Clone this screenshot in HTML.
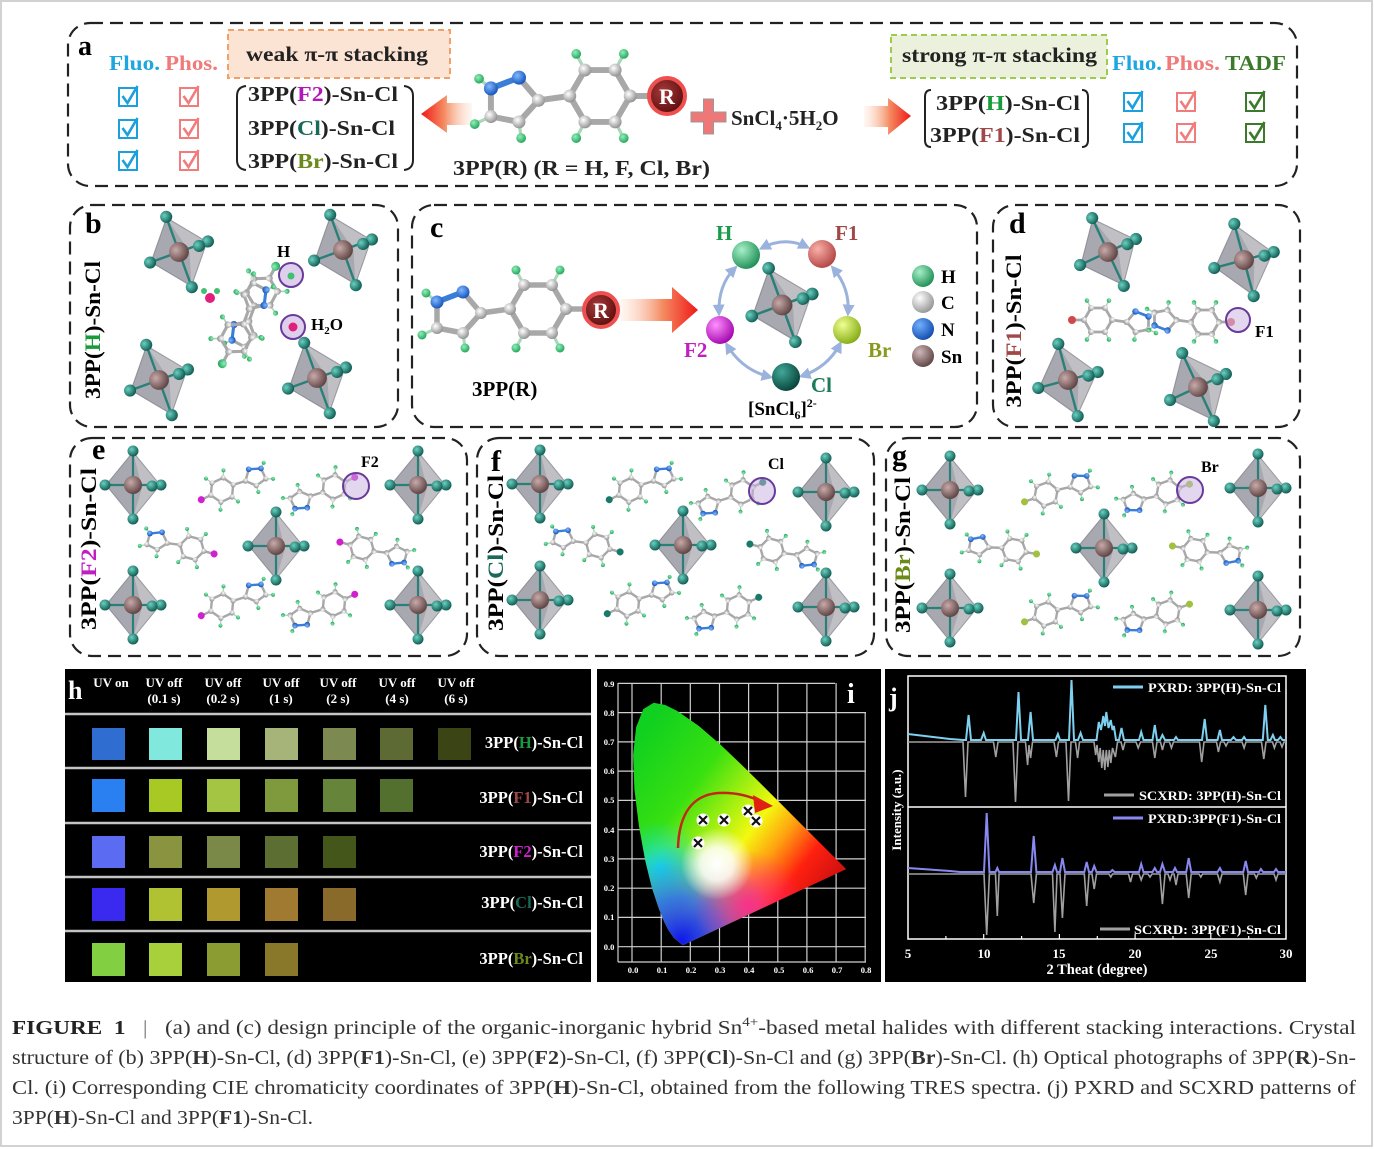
<!DOCTYPE html>
<html><head><meta charset="utf-8"><style>
html,body{margin:0;padding:0;background:#fff;}
body{width:1374px;height:1149px;overflow:hidden;}
svg{display:block;}
</style></head><body>
<svg width="1374" height="1149" viewBox="0 0 1374 1149" xmlns="http://www.w3.org/2000/svg" font-family="'Liberation Serif', serif" font-weight="bold">
<defs>
<radialGradient id="gSn" cx=".38" cy=".35" r=".7"><stop offset="0" stop-color="#c8aaaa"/><stop offset="1" stop-color="#5a3e3e"/></radialGradient>
<radialGradient id="gCl" cx=".38" cy=".35" r=".7"><stop offset="0" stop-color="#6ad0c0"/><stop offset="1" stop-color="#0a554c"/></radialGradient>
<radialGradient id="gC" cx=".38" cy=".35" r=".7"><stop offset="0" stop-color="#ffffff"/><stop offset="1" stop-color="#8c8c8c"/></radialGradient>
<radialGradient id="gN" cx=".38" cy=".35" r=".7"><stop offset="0" stop-color="#80b8ff"/><stop offset="1" stop-color="#1050b8"/></radialGradient>
<radialGradient id="gH" cx=".38" cy=".35" r=".7"><stop offset="0" stop-color="#90f0b8"/><stop offset="1" stop-color="#20a058"/></radialGradient>
<radialGradient id="gHb" cx=".35" cy=".32" r=".75"><stop offset="0" stop-color="#a8f0c8"/><stop offset="1" stop-color="#188a50"/></radialGradient>
<radialGradient id="gF1" cx=".35" cy=".32" r=".75"><stop offset="0" stop-color="#f8b0a8"/><stop offset="1" stop-color="#b04040"/></radialGradient>
<radialGradient id="gF2" cx=".35" cy=".32" r=".75"><stop offset="0" stop-color="#ff90ff"/><stop offset="1" stop-color="#a000a8"/></radialGradient>
<radialGradient id="gBr" cx=".35" cy=".32" r=".75"><stop offset="0" stop-color="#f0ff90"/><stop offset="1" stop-color="#80a810"/></radialGradient>
<radialGradient id="gClb" cx=".35" cy=".32" r=".75"><stop offset="0" stop-color="#40a898"/><stop offset="1" stop-color="#063e36"/></radialGradient>
<radialGradient id="gCw" cx=".35" cy=".32" r=".75"><stop offset="0" stop-color="#ffffff"/><stop offset="1" stop-color="#909090"/></radialGradient>
<radialGradient id="gNb" cx=".35" cy=".32" r=".75"><stop offset="0" stop-color="#70b0ff"/><stop offset="1" stop-color="#1048a8"/></radialGradient>
<radialGradient id="gSnb" cx=".35" cy=".32" r=".75"><stop offset="0" stop-color="#d0b8b8"/><stop offset="1" stop-color="#5a4040"/></radialGradient>
<radialGradient id="gR" cx=".4" cy=".38" r=".65"><stop offset="0" stop-color="#a83a3a"/><stop offset="1" stop-color="#5a0c0c"/></radialGradient>
<linearGradient id="arL" x1="1" y1="0" x2="0" y2="0"><stop offset="0" stop-color="#fde6d6" stop-opacity=".3"/><stop offset=".55" stop-color="#f48a60"/><stop offset="1" stop-color="#f01818"/></linearGradient>
<linearGradient id="arR" x1="0" y1="0" x2="1" y2="0"><stop offset="0" stop-color="#fde6d6" stop-opacity=".3"/><stop offset=".55" stop-color="#f48a60"/><stop offset="1" stop-color="#f01818"/></linearGradient>
<linearGradient id="cieBase" gradientUnits="userSpaceOnUse" x1="650" y1="720" x2="846" y2="869"><stop offset="0" stop-color="#10d020"/><stop offset=".3" stop-color="#38e010"/><stop offset=".48" stop-color="#a8f010"/><stop offset=".6" stop-color="#f4f810"/><stop offset=".72" stop-color="#ffa010"/><stop offset=".85" stop-color="#ff2010"/><stop offset="1" stop-color="#cc1010"/></linearGradient>
<radialGradient id="cieB" gradientUnits="userSpaceOnUse" cx="682" cy="940" r="95"><stop offset="0" stop-color="#1018e8"/><stop offset=".45" stop-color="#2060ff" stop-opacity=".8"/><stop offset="1" stop-color="#20a0ff" stop-opacity="0"/></radialGradient>
<radialGradient id="cieC" gradientUnits="userSpaceOnUse" cx="660" cy="868" r="48"><stop offset="0" stop-color="#10e0f0" stop-opacity=".95"/><stop offset="1" stop-color="#10e0e0" stop-opacity="0"/></radialGradient>
<radialGradient id="cieM" gradientUnits="userSpaceOnUse" cx="748" cy="905" r="55"><stop offset="0" stop-color="#ff2a90" stop-opacity=".9"/><stop offset="1" stop-color="#ff2a90" stop-opacity="0"/></radialGradient>
<radialGradient id="cieW" gradientUnits="userSpaceOnUse" cx="717" cy="864" r="36"><stop offset="0" stop-color="#ffffff"/><stop offset=".45" stop-color="#ffffff" stop-opacity=".85"/><stop offset="1" stop-color="#ffffff" stop-opacity="0"/></radialGradient>
<clipPath id="cieClip"><path d="M682.8,945.2 L674.0,938.0 L668.2,929.8 L663.9,921.3 L658.6,907.9 L652.0,888.0 L645.2,860.4 L638.9,825.9 L634.4,789.2 L633.1,755.1 L636.1,727.2 L643.3,709.1 L653.7,702.7 L665.3,705.0 L677.1,710.9 L698.9,726.0 L719.9,744.1 L740.8,764.0 L761.5,784.4 L781.4,804.3 L799.7,822.6 L814.8,837.7 L833.6,856.5 L846.2,869.1 Z"/></clipPath>
<marker id="ah" viewBox="0 0 10 10" refX="7" refY="5" markerWidth="4" markerHeight="4" orient="auto-start-reverse"><path d="M0,0 L10,5 L0,10 z" fill="#9ab2dc"/></marker>
<g id="oct">
<polygon points="0,-33 27,0 0,33 -27,0" fill="#8a8a94" fill-opacity=".55" stroke="#9a9aa2" stroke-width="1"/>
<polygon points="0,-33 9,3 0,33 -27,0" fill="#55556a" fill-opacity=".22"/>
<g stroke="#2a8078" stroke-width="2.2"><line x1="0" y1="0" x2="0" y2="-33"/><line x1="0" y1="0" x2="0" y2="33"/><line x1="0" y1="0" x2="-28" y2="0"/><line x1="0" y1="0" x2="28" y2="0"/></g>
<circle r="9" fill="url(#gSn)"/>
<g fill="url(#gCl)"><circle cx="0" cy="-34" r="5.5"/><circle cx="0" cy="34" r="5.5"/><circle cx="-28" cy="0" r="5.5"/><circle cx="28" cy="0" r="5.5"/><circle cx="19" cy="1" r="5.5"/></g>
</g>
<g id="mol">
<g fill="none" stroke="#a8a8a8" stroke-width="5.5" stroke-linejoin="round" stroke-linecap="round">
<polygon points="28,0 14,-24 -14,-24 -28,0 -14,24 14,24"/>
<polyline points="-75,-17 -57,4 -75,24 -101,19 -101,-7"/>
<line x1="-28" y1="0" x2="-57" y2="4"/><line x1="28" y1="0" x2="50" y2="0"/>
</g>
<line x1="-75" y1="-17" x2="-101" y2="-7" stroke="#3a7ed8" stroke-width="5.5" stroke-linecap="round"/>
<g stroke="#a8d8b8" stroke-width="3"><line x1="14" y1="-24" x2="22" y2="-39"/><line x1="-14" y1="-24" x2="-22" y2="-39"/><line x1="-14" y1="24" x2="-22" y2="39"/><line x1="14" y1="24" x2="22" y2="39"/><line x1="-101" y1="-7" x2="-112" y2="-16"/><line x1="-101" y1="19" x2="-116" y2="26"/><line x1="-75" y1="24" x2="-73" y2="39"/></g>
<g fill="url(#gC)"><circle cx="28" cy="0" r="6"/><circle cx="14" cy="-24" r="6"/><circle cx="-14" cy="-24" r="6"/><circle cx="-28" cy="0" r="6"/><circle cx="-14" cy="24" r="6"/><circle cx="14" cy="24" r="6"/><circle cx="-57" cy="4" r="6"/><circle cx="-101" cy="19" r="6"/><circle cx="-75" cy="24" r="6"/></g>
<g fill="url(#gN)"><circle cx="-75" cy="-17" r="6.5"/><circle cx="-101" cy="-7" r="6.5"/></g>
<g fill="url(#gH)"><circle cx="22" cy="-39" r="4.5"/><circle cx="-22" cy="-39" r="4.5"/><circle cx="-22" cy="39" r="4.5"/><circle cx="22" cy="39" r="4.5"/><circle cx="-112" cy="-16" r="4.5"/><circle cx="-116" cy="26" r="4.5"/><circle cx="-73" cy="39" r="4.5"/></g>
<circle cx="52" cy="0" r="8"/>
</g>
<g id="cb" fill="none"><rect x="0" y="0" width="18" height="18" stroke-width="2"/><path d="M3.5,8 L8.5,15 L18.5,-2" stroke-width="2.6"/></g>
</defs>

<!-- page border -->
<rect x="1" y="1" width="1371" height="1145" fill="#fff" stroke="#d2d2d2" stroke-width="2"/>

<!-- dashed boxes -->
<g fill="none" stroke="#222" stroke-width="2.2" stroke-dasharray="13 7">
<rect x="68" y="23" width="1229" height="163" rx="22"/>
<rect x="70" y="205" width="328" height="222" rx="22"/>
<rect x="412" y="205" width="565" height="222" rx="22"/>
<rect x="993" y="205" width="307" height="222" rx="22"/>
<rect x="70" y="438" width="397" height="218" rx="22"/>
<rect x="477" y="438" width="397" height="218" rx="22"/>
<rect x="886" y="438" width="414" height="218" rx="22"/>
</g>

<!-- ===== Panel a ===== -->
<text x="78" y="55" font-size="28">a</text>
<text x="109" y="70" font-size="21" fill="#1da6e0" textLength="51" lengthAdjust="spacingAndGlyphs">Fluo.</text>
<text x="165" y="70" font-size="21" fill="#f07a7a" textLength="53" lengthAdjust="spacingAndGlyphs">Phos.</text>
<rect x="228" y="30" width="222" height="48" fill="#fbe4d4" stroke="#f0a068" stroke-width="2" stroke-dasharray="6 4"/>
<text x="246" y="61" font-size="21" fill="#222" textLength="182" lengthAdjust="spacingAndGlyphs">weak π-π stacking</text>
<use href="#cb" x="119" y="88" stroke="#1aa0dc"/>
<use href="#cb" x="119" y="120" stroke="#1aa0dc"/>
<use href="#cb" x="119" y="152" stroke="#1aa0dc"/>
<use href="#cb" x="180" y="88" stroke="#f07c7c"/>
<use href="#cb" x="180" y="120" stroke="#f07c7c"/>
<use href="#cb" x="180" y="152" stroke="#f07c7c"/>
<path d="M246,86 Q237,87 237,96 L237,160 Q237,169 246,170" fill="none" stroke="#222" stroke-width="2"/>
<path d="M404,86 Q413,87 413,96 L413,160 Q413,169 404,170" fill="none" stroke="#222" stroke-width="2"/>
<text x="248" y="101" font-size="21" fill="#222" textLength="150" lengthAdjust="spacingAndGlyphs">3PP(<tspan fill="#b018b8">F2</tspan>)-Sn-Cl</text>
<text x="248" y="135" font-size="21" fill="#222" textLength="147" lengthAdjust="spacingAndGlyphs">3PP(<tspan fill="#1a6a5a">Cl</tspan>)-Sn-Cl</text>
<text x="248" y="168" font-size="21" fill="#222" textLength="150" lengthAdjust="spacingAndGlyphs">3PP(<tspan fill="#6a8a1a">Br</tspan>)-Sn-Cl</text>
<polygon points="472,103 447,103 447,95 421,114 447,133 447,125 472,125" fill="url(#arL)"/>
<use href="#mol" transform="translate(600,96) scale(1.08)" fill="none"/>
<circle cx="667" cy="96" r="18" fill="url(#gR)" stroke="#ee5050" stroke-width="4"/>
<text x="667" y="104" font-size="22" fill="#fff" text-anchor="middle">R</text>
<text x="453" y="175" font-size="21" fill="#222" textLength="257" lengthAdjust="spacingAndGlyphs">3PP(R) (R = H, F, Cl, Br)</text>
<g fill="#ee7878" stroke="#999" stroke-width="1"><rect x="691" y="112" width="35" height="10"/><rect x="703.5" y="99" width="10" height="35"/></g>
<rect x="692" y="113" width="33" height="8" fill="#ee7878"/>
<text x="731" y="125" font-size="21" fill="#222">SnCl<tspan dy="5" font-size="13">4</tspan><tspan dy="-5">·5H</tspan><tspan dy="5" font-size="13">2</tspan><tspan dy="-5">O</tspan></text>
<polygon points="864,106 888,106 888,98 911,116 888,135 888,127 864,127" fill="url(#arR)"/>
<rect x="891" y="35" width="216" height="43" fill="#ebf1dd" stroke="#9ccc4a" stroke-width="2" stroke-dasharray="6 4"/>
<text x="902" y="62" font-size="21" fill="#222" textLength="195" lengthAdjust="spacingAndGlyphs">strong π-π stacking</text>
<path d="M931,90 Q925,90 925,97 L925,140 Q925,147 931,147" fill="none" stroke="#222" stroke-width="2"/>
<path d="M1082,90 Q1088,90 1088,97 L1088,140 Q1088,147 1082,147" fill="none" stroke="#222" stroke-width="2"/>
<text x="936" y="110" font-size="21" fill="#222" textLength="144" lengthAdjust="spacingAndGlyphs">3PP(<tspan fill="#1a9a3a">H</tspan>)-Sn-Cl</text>
<text x="930" y="142" font-size="21" fill="#222" textLength="150" lengthAdjust="spacingAndGlyphs">3PP(<tspan fill="#a04848">F1</tspan>)-Sn-Cl</text>
<text x="1112" y="70" font-size="21" fill="#1da6e0" textLength="50" lengthAdjust="spacingAndGlyphs">Fluo.</text>
<text x="1165" y="70" font-size="21" fill="#f07a7a" textLength="55" lengthAdjust="spacingAndGlyphs">Phos.</text>
<text x="1225" y="70" font-size="21" fill="#3a7a2a" textLength="61" lengthAdjust="spacingAndGlyphs">TADF</text>
<use href="#cb" x="1124" y="93" stroke="#1aa0dc"/>
<use href="#cb" x="1124" y="124" stroke="#1aa0dc"/>
<use href="#cb" x="1177" y="93" stroke="#f07c7c"/>
<use href="#cb" x="1177" y="124" stroke="#f07c7c"/>
<use href="#cb" x="1246" y="93" stroke="#3a7a2a"/>
<use href="#cb" x="1246" y="124" stroke="#3a7a2a"/>

<!-- ===== Panel b ===== -->
<text x="85" y="233" font-size="30">b</text>
<text transform="translate(100,330) rotate(-90)" font-size="22" text-anchor="middle" textLength="138" lengthAdjust="spacingAndGlyphs">3PP(<tspan fill="#1a9a3a">H</tspan>)-Sn-Cl</text>
<use href="#oct" transform="translate(179,252) rotate(-20) scale(1.1)"/>
<use href="#oct" transform="translate(343,250) rotate(-20) scale(1.1)"/>
<use href="#oct" transform="translate(159,380) rotate(-20) scale(1.1)"/>
<use href="#oct" transform="translate(317,378) rotate(-20) scale(1.1)"/>
<use href="#mol" transform="translate(262,292) rotate(-62) scale(0.56)" fill="url(#gH)"/>
<use href="#mol" transform="translate(236,338) rotate(118) scale(0.56)" fill="url(#gH)"/>
<circle cx="210" cy="298" r="5" fill="#e0207a"/><circle cx="204" cy="291" r="3" fill="#40c070"/><circle cx="217" cy="291" r="3" fill="#40c070"/>
<circle cx="291" cy="275" r="12" fill="#c8b0e0" fill-opacity=".6" stroke="#6a3a9a" stroke-width="2"/>
<circle cx="291" cy="276" r="3.5" fill="#40c070"/>
<circle cx="293" cy="327" r="12" fill="#c8b0e0" fill-opacity=".6" stroke="#6a3a9a" stroke-width="2"/>
<circle cx="293" cy="327" r="4.5" fill="#e0207a"/>
<text x="277" y="257" font-size="17">H</text>
<text x="311" y="330" font-size="17">H<tspan dy="4" font-size="11">2</tspan><tspan dy="-4">O</tspan></text>

<!-- ===== Panel c ===== -->
<text x="430" y="237" font-size="30">c</text>
<use href="#mol" transform="translate(538,309)" fill="none"/>
<circle cx="601" cy="310" r="17" fill="url(#gR)" stroke="#ee5050" stroke-width="4"/>
<text x="601" y="318" font-size="22" fill="#fff" text-anchor="middle">R</text>
<polygon points="620,299 672,299 672,287 698,310 672,333 672,321 620,321" fill="url(#arR)"/>
<text x="472" y="396" font-size="21">3PP(R)</text>
<g fill="none" stroke="#9ab2dc" stroke-width="3" marker-start="url(#ah)" marker-end="url(#ah)">
<path d="M762,248 Q785,236 807,247"/>
<path d="M833,268 Q850,288 848,313"/>
<path d="M840,344 Q828,367 802,376"/>
<path d="M770,377 Q742,370 727,345"/>
<path d="M719,313 Q718,285 735,268"/>
</g>
<use href="#oct" transform="translate(782,305) rotate(-20) scale(1.15)"/>
<circle cx="746" cy="255" r="14" fill="url(#gHb)"/>
<circle cx="822" cy="254" r="14" fill="url(#gF1)"/>
<circle cx="720" cy="330" r="14" fill="url(#gF2)"/>
<circle cx="847" cy="330" r="14" fill="url(#gBr)"/>
<circle cx="786" cy="377" r="14" fill="url(#gClb)"/>
<text x="716" y="240" font-size="21" fill="#1a9a4a">H</text>
<text x="835" y="240" font-size="21" fill="#a04848">F1</text>
<text x="684" y="357" font-size="21" fill="#c020c0">F2</text>
<text x="868" y="357" font-size="21" fill="#8a9a20">Br</text>
<text x="811" y="392" font-size="21" fill="#1a7a5a">Cl</text>
<text x="748" y="415" font-size="19">[SnCl<tspan dy="4" font-size="12">6</tspan><tspan dy="-4">]</tspan><tspan dy="-8" font-size="12">2-</tspan></text>
<circle cx="923" cy="276" r="11" fill="url(#gHb)"/>
<circle cx="923" cy="302" r="11" fill="url(#gCw)"/>
<circle cx="923" cy="329" r="11" fill="url(#gNb)"/>
<circle cx="923" cy="356" r="11" fill="url(#gSnb)"/>
<text x="941" y="283" font-size="19">H</text>
<text x="941" y="309" font-size="19">C</text>
<text x="941" y="336" font-size="19">N</text>
<text x="941" y="363" font-size="19">Sn</text>

<!-- ===== Panel d ===== -->
<text x="1009" y="233" font-size="30">d</text>
<text transform="translate(1021,331) rotate(-90)" font-size="22" text-anchor="middle" textLength="153" lengthAdjust="spacingAndGlyphs">3PP(<tspan fill="#a04848">F1</tspan>)-Sn-Cl</text>
<use href="#oct" transform="translate(1108,252) rotate(-25) scale(1.1)"/>
<use href="#oct" transform="translate(1244,260) rotate(-15) scale(1.1)"/>
<use href="#oct" transform="translate(1068,380) rotate(-15) scale(1.1)"/>
<use href="#oct" transform="translate(1198,387) rotate(-25) scale(1.1)"/>
<use href="#mol" transform="translate(1098,320) scale(-0.5,0.5)" fill="#d04848"/>
<use href="#mol" transform="translate(1205,322) scale(0.5,-0.5)" fill="#d86a6a"/>
<circle cx="1238" cy="320" r="12" fill="#c8b0e0" fill-opacity=".5" stroke="#6a3a9a" stroke-width="2"/>
<text x="1255" y="337" font-size="17">F1</text>

<!-- ===== Panel e ===== -->
<text x="92" y="459" font-size="30">e</text>
<text transform="translate(96,549) rotate(-90)" font-size="22" text-anchor="middle" textLength="162" lengthAdjust="spacingAndGlyphs">3PP(<tspan fill="#c020c0">F2</tspan>)-Sn-Cl</text>
<use href="#oct" transform="translate(133,485)"/>
<use href="#oct" transform="translate(418,485)"/>
<use href="#oct" transform="translate(276,546)"/>
<use href="#oct" transform="translate(133,605)"/>
<use href="#oct" transform="translate(418,605)"/>
<use href="#mol" transform="translate(222,490) rotate(-25) scale(-0.44,0.44)" fill="#d020d0"/>
<use href="#mol" transform="translate(334,487) rotate(-25) scale(0.44,-0.44)" fill="#d020d0"/>
<use href="#mol" transform="translate(192,548) rotate(15) scale(0.44,0.44)" fill="#d020d0"/>
<use href="#mol" transform="translate(362,548) rotate(195) scale(0.44)" fill="#d020d0"/>
<use href="#mol" transform="translate(222,606) rotate(-25) scale(-0.44,0.44)" fill="#d020d0"/>
<use href="#mol" transform="translate(334,604) rotate(-25) scale(0.44,-0.44)" fill="#d020d0"/>
<circle cx="356" cy="486" r="13" fill="#c8b0e0" fill-opacity=".5" stroke="#6a3a9a" stroke-width="2"/>
<text x="361" y="467" font-size="16">F2</text>

<!-- ===== Panel f ===== -->
<text x="491" y="471" font-size="30">f</text>
<text transform="translate(503,553) rotate(-90)" font-size="22" text-anchor="middle" textLength="156" lengthAdjust="spacingAndGlyphs">3PP(<tspan fill="#1a6a5a">Cl</tspan>)-Sn-Cl</text>
<use href="#oct" transform="translate(540,484)"/>
<use href="#oct" transform="translate(826,492)"/>
<use href="#oct" transform="translate(683,545)"/>
<use href="#oct" transform="translate(540,600)"/>
<use href="#oct" transform="translate(826,607)"/>
<use href="#mol" transform="translate(630,490) rotate(-25) scale(-0.44,0.44)" fill="#1a7a6a"/>
<use href="#mol" transform="translate(742,492) rotate(-25) scale(0.44,-0.44)" fill="#1a7a6a"/>
<use href="#mol" transform="translate(598,546) rotate(15) scale(0.44,0.44)" fill="#1a7a6a"/>
<use href="#mol" transform="translate(772,550) rotate(195) scale(0.44)" fill="#1a7a6a"/>
<use href="#mol" transform="translate(628,604) rotate(-25) scale(-0.44,0.44)" fill="#1a7a6a"/>
<use href="#mol" transform="translate(738,607) rotate(-25) scale(0.44,-0.44)" fill="#1a7a6a"/>
<circle cx="762" cy="491" r="13" fill="#c8b0e0" fill-opacity=".5" stroke="#6a3a9a" stroke-width="2"/>
<text x="768" y="469" font-size="16">Cl</text>

<!-- ===== Panel g ===== -->
<text x="892" y="465" font-size="30">g</text>
<text transform="translate(910,555) rotate(-90)" font-size="22" text-anchor="middle" textLength="156" lengthAdjust="spacingAndGlyphs">3PP(<tspan fill="#6a8a1a">Br</tspan>)-Sn-Cl</text>
<use href="#oct" transform="translate(950,490)"/>
<use href="#oct" transform="translate(1258,488)"/>
<use href="#oct" transform="translate(1104,548)"/>
<use href="#oct" transform="translate(950,608)"/>
<use href="#oct" transform="translate(1258,610)"/>
<use href="#mol" transform="translate(1046,494) rotate(-20) scale(-0.44,0.44)" fill="#a0c040"/>
<use href="#mol" transform="translate(1168,492) rotate(-20) scale(0.44,-0.44)" fill="#a0c040"/>
<use href="#mol" transform="translate(1014,550) rotate(10) scale(0.44,0.44)" fill="#a0c040"/>
<use href="#mol" transform="translate(1195,550) rotate(190) scale(0.44)" fill="#a0c040"/>
<use href="#mol" transform="translate(1046,614) rotate(-20) scale(-0.44,0.44)" fill="#a0c040"/>
<use href="#mol" transform="translate(1168,612) rotate(-20) scale(0.44,-0.44)" fill="#a0c040"/>
<circle cx="1190" cy="490" r="13" fill="#c8b0e0" fill-opacity=".5" stroke="#6a3a9a" stroke-width="2"/>
<text x="1201" y="472" font-size="16">Br</text>

<!-- ===== Panel h ===== -->
<rect x="65" y="669" width="526" height="313" fill="#000"/>
<g stroke="#c4c4c4" stroke-width="2.5"><line x1="65" y1="714" x2="591" y2="714"/><line x1="65" y1="768" x2="591" y2="768"/><line x1="65" y1="823" x2="591" y2="823"/><line x1="65" y1="877" x2="591" y2="877"/><line x1="65" y1="931" x2="591" y2="931"/></g>
<text x="68" y="699" font-size="26" fill="#fff">h</text>
<g fill="#fff" font-size="13" text-anchor="middle">
<text x="111" y="687">UV on</text>
<text x="164" y="687">UV off</text><text x="164" y="703">(0.1 s)</text>
<text x="223" y="687">UV off</text><text x="223" y="703">(0.2 s)</text>
<text x="281" y="687">UV off</text><text x="281" y="703">(1 s)</text>
<text x="338" y="687">UV off</text><text x="338" y="703">(2 s)</text>
<text x="397" y="687">UV off</text><text x="397" y="703">(4 s)</text>
<text x="456" y="687">UV off</text><text x="456" y="703">(6 s)</text>
</g>
<g>
<rect x="92" y="728" width="33" height="32" fill="#2f6ed0"/>
<rect x="149" y="728" width="33" height="32" fill="#80e8dc"/>
<rect x="207" y="728" width="33" height="32" fill="#c6de9c"/>
<rect x="265" y="728" width="33" height="32" fill="#a6b47a"/>
<rect x="323" y="728" width="33" height="32" fill="#7c8a52"/>
<rect x="380" y="728" width="33" height="32" fill="#5e6a34"/>
<rect x="438" y="728" width="33" height="32" fill="#3a4414"/>

<rect x="92" y="779" width="33" height="33" fill="#2a80f0"/>
<rect x="149" y="779" width="33" height="33" fill="#a8c824"/>
<rect x="207" y="779" width="33" height="33" fill="#a4c444"/>
<rect x="265" y="779" width="33" height="33" fill="#7e9a3c"/>
<rect x="323" y="779" width="33" height="33" fill="#66843a"/>
<rect x="380" y="779" width="33" height="33" fill="#54702e"/>

<rect x="92" y="836" width="33" height="32" fill="#5c6cf2"/>
<rect x="149" y="836" width="33" height="32" fill="#8a9440"/>
<rect x="207" y="836" width="33" height="32" fill="#7a8848"/>
<rect x="265" y="836" width="33" height="32" fill="#5c6e32"/>
<rect x="323" y="836" width="33" height="32" fill="#44561a"/>

<rect x="92" y="888" width="33" height="33" fill="#3a2af0"/>
<rect x="149" y="888" width="33" height="33" fill="#b0c232"/>
<rect x="207" y="888" width="33" height="33" fill="#b09a30"/>
<rect x="265" y="888" width="33" height="33" fill="#a07a30"/>
<rect x="323" y="888" width="33" height="33" fill="#8a6a2a"/>

<rect x="92" y="943" width="33" height="33" fill="#82d042"/>
<rect x="149" y="943" width="33" height="33" fill="#a8d03a"/>
<rect x="207" y="943" width="33" height="33" fill="#8a9c32"/>
<rect x="265" y="943" width="33" height="33" fill="#8a782a"/>
</g>
<g fill="#fff" font-size="16.5" text-anchor="end">
<text x="583" y="748">3PP(<tspan fill="#1a9a3a">H</tspan>)-Sn-Cl</text>
<text x="583" y="803">3PP(<tspan fill="#a04848">F1</tspan>)-Sn-Cl</text>
<text x="583" y="857">3PP(<tspan fill="#d020d0">F2</tspan>)-Sn-Cl</text>
<text x="583" y="908">3PP(<tspan fill="#1a6a5a">Cl</tspan>)-Sn-Cl</text>
<text x="583" y="964">3PP(<tspan fill="#6a8a1a">Br</tspan>)-Sn-Cl</text>
</g>

<!-- ===== Panel i ===== -->
<rect x="597" y="669" width="284" height="313" fill="#000"/>
<g stroke="#cfcfcf" stroke-width="1.2">
<line x1="618" y1="683.4" x2="835" y2="683.4"/>
<line x1="618" y1="712.6" x2="866" y2="712.6"/>
<line x1="618" y1="741.9" x2="866" y2="741.9"/>
<line x1="618" y1="771.1" x2="866" y2="771.1"/>
<line x1="618" y1="800.4" x2="866" y2="800.4"/>
<line x1="618" y1="829.7" x2="866" y2="829.7"/>
<line x1="618" y1="858.9" x2="866" y2="858.9"/>
<line x1="618" y1="888.2" x2="866" y2="888.2"/>
<line x1="618" y1="917.4" x2="866" y2="917.4"/>
<line x1="618" y1="946.7" x2="866" y2="946.7"/>
<line x1="618" y1="962" x2="866" y2="962"/>
<line x1="618" y1="683" x2="618" y2="962"/>
<line x1="632" y1="683" x2="632" y2="962"/>
<line x1="661.2" y1="683" x2="661.2" y2="962"/>
<line x1="690.3" y1="683" x2="690.3" y2="962"/>
<line x1="719.5" y1="683" x2="719.5" y2="962"/>
<line x1="748.6" y1="683" x2="748.6" y2="962"/>
<line x1="777.8" y1="683" x2="777.8" y2="962"/>
<line x1="806.9" y1="683" x2="806.9" y2="962"/>
<line x1="836.1" y1="683" x2="836.1" y2="962"/>
<line x1="865.2" y1="713" x2="865.2" y2="962"/>
</g>
<g clip-path="url(#cieClip)">
<rect x="620" y="690" width="240" height="270" fill="url(#cieBase)"/>
<rect x="620" y="690" width="240" height="270" fill="url(#cieC)"/>
<rect x="620" y="690" width="240" height="270" fill="url(#cieB)"/>
<rect x="620" y="690" width="240" height="270" fill="url(#cieM)"/>
<rect x="620" y="690" width="240" height="270" fill="url(#cieW)"/>
</g>
<path d="M678,848 C679,812 694,795 718,793 C738,792 752,797 762,802" fill="none" stroke="#c02818" stroke-width="2.5"/>
<polygon points="753,795 773,806 755,813" fill="#e02010"/>
<g>
<circle cx="703" cy="820" r="6.5" fill="#fff"/><path d="M699,816 L707,824 M707,816 L699,824" stroke="#111" stroke-width="2.2"/>
<circle cx="724" cy="820" r="6.5" fill="#fff"/><path d="M720,816 L728,824 M728,816 L720,824" stroke="#111" stroke-width="2.2"/>
<circle cx="748" cy="811" r="6.5" fill="#fff"/><path d="M744,807 L752,815 M752,807 L744,815" stroke="#111" stroke-width="2.2"/>
<circle cx="756" cy="821" r="6.5" fill="#fff"/><path d="M752,817 L760,825 M760,817 L752,825" stroke="#111" stroke-width="2.2"/>
<circle cx="698" cy="843" r="6.5" fill="#fff"/><path d="M694,839 L702,847 M702,839 L694,847" stroke="#111" stroke-width="2.2"/>
</g>
<text x="847" y="703" font-size="28" fill="#fff">i</text>
<g fill="#fff" font-size="8.5" text-anchor="middle">
<text x="609" y="687">0.9</text><text x="609" y="716">0.8</text><text x="609" y="745">0.7</text><text x="609" y="774">0.6</text><text x="609" y="803">0.5</text><text x="609" y="833">0.4</text><text x="609" y="862">0.3</text><text x="609" y="891">0.2</text><text x="609" y="920">0.1</text><text x="609" y="950">0.0</text>
<text x="633" y="973">0.0</text><text x="662" y="973">0.1</text><text x="691" y="973">0.2</text><text x="720" y="973">0.3</text><text x="749" y="973">0.4</text><text x="779" y="973">0.5</text><text x="808" y="973">0.6</text><text x="837" y="973">0.7</text><text x="866" y="973">0.8</text>
</g>

<!-- ===== Panel j ===== -->
<rect x="885" y="669" width="421" height="313" fill="#000"/>
<rect x="908" y="676" width="378" height="263" fill="none" stroke="#fff" stroke-width="1.5"/>
<line x1="908" y1="807" x2="1286" y2="807" stroke="#fff" stroke-width="1.5"/>
<g stroke="#fff" stroke-width="1.2">
<line x1="945.9" y1="939" x2="945.9" y2="936"/><line x1="983.7" y1="939" x2="983.7" y2="934"/><line x1="1021.6" y1="939" x2="1021.6" y2="936"/><line x1="1059.4" y1="939" x2="1059.4" y2="934"/><line x1="1097.3" y1="939" x2="1097.3" y2="936"/><line x1="1135.1" y1="939" x2="1135.1" y2="934"/><line x1="1173" y1="939" x2="1173" y2="936"/><line x1="1210.8" y1="939" x2="1210.8" y2="934"/><line x1="1248.7" y1="939" x2="1248.7" y2="936"/>
</g>
<path fill="none" stroke="#a0a0a0" stroke-width="1.6" d="M908,742 L963,742 L965.5,797 L968,742 L993.5,742 L995.8,757 L998,742 L1013,742 L1015.5,802 L1018,742 L1025.5,742 L1027.6,765 L1029,745 L1030.6,758 L1032.5,742 L1054,742 L1056.4,757 L1058.5,742 L1066,742 L1068.5,801 L1071,742 L1075.5,742 L1077.6,758 L1079.5,742 L1094,742 L1095.7,755 L1097,745 L1098.8,762 L1100.2,748 L1101.8,768 L1103.2,750 L1104.8,770 L1106.3,750 L1107.9,767 L1109.3,750 L1110.8,763 L1112.5,748 L1115.4,757 L1117.5,742 L1121,742 L1123,750 L1125,742 L1136,742 L1138.2,748 L1140.5,742 L1152.5,742 L1154.8,758 L1157,742 L1160.5,742 L1162.4,750 L1164.5,742 L1169.5,742 L1171.4,748 L1173.5,742 L1199.5,742 L1201.7,762 L1204,742 L1216.5,742 L1218.4,752 L1220.5,742 L1224,742 L1226,746 L1228,742 L1242,742 L1244.1,748 L1246,742 L1261.5,742 L1263.8,759 L1266,742 L1272.5,742 L1274.4,748 L1276.5,742 L1280,742 L1282,747 L1284,742 L1286,742"/>
<path fill="none" stroke="#7ed0f0" stroke-width="2" d="M908,734 L950,739 L963,740 L966,740 L968.6,715 L971,740 L981,740 L983.7,733 L986,740 L1016,740 L1018.5,692 L1021,740 L1028,740 L1030.6,712 L1033,740 L1055.5,740 L1057.9,734 L1060,740 L1069,740 L1071.5,680 L1074,740 L1078,740 L1080.6,733 L1083,740 L1096.5,740 L1098.8,722 L1101,730 L1103.3,716 L1105,726 L1106.3,712 L1108.5,728 L1110.8,720 L1112.5,730 L1113.9,726 L1116,740 L1119,740 L1121.5,728 L1124,740 L1139,740 L1141.2,732 L1143.5,740 L1152.5,740 L1154.8,725 L1157,740 L1160,740 L1162.4,735 L1165,740 L1174,740 L1176,737 L1178,740 L1202,740 L1204.7,719 L1207,740 L1217.5,740 L1219.9,730 L1222,740 L1231,740 L1233.5,737 L1236,740 L1242,740 L1244.1,737 L1246,740 L1262.8,740 L1265.3,705 L1267.8,740 L1270.5,740 L1272.9,735 L1275,740 L1278,740 L1280.4,737 L1282.5,740 L1286,740"/>
<path fill="none" stroke="#a0a0a0" stroke-width="1.6" d="M908,874 L984,874 L986.7,935 L989.4,874 L995.5,874 L997.3,916 L999,874 L1031,874 L1033.7,903 L1036.4,874 L1052.5,874 L1054.9,932 L1057,874 L1060,874 L1062.4,918 L1065,874 L1084.3,874 L1086.7,906 L1089,874 L1092,874 L1094.2,889 L1096.5,874 L1109,874 L1110.8,877 L1112.5,874 L1128.5,874 L1130.5,882 L1132.5,874 L1139,874 L1141.2,880 L1143.5,874 L1148,874 L1150,877 L1152,874 L1160,874 L1162.4,904 L1165,874 L1168,874 L1170,880 L1172,874 L1174,874 L1176,885 L1178,874 L1186.2,874 L1188.7,898 L1191.2,874 L1199,874 L1200.8,877 L1202.5,874 L1217.5,874 L1219.9,882 L1222,874 L1243.3,874 L1245.7,895 L1248,874 L1254.5,874 L1256.3,878 L1258,874 L1274,874 L1276,880 L1278,874 L1286,874"/>
<path fill="none" stroke="#8888f0" stroke-width="2" d="M908,868 L950,871 L960,872 L984,872 L986.7,813 L989.4,872 L995.5,872 L997.3,868 L999,872 L1031,872 L1033.7,836 L1036.4,872 L1052.5,872 L1054.9,865 L1057,872 L1060,872 L1062.4,858 L1065,872 L1084.3,872 L1086.7,862 L1089,872 L1092,872 L1094.2,866 L1096.5,872 L1110.5,872 L1112.4,870 L1114.5,872 L1139,872 L1141.2,864 L1143.5,872 L1152.5,872 L1154.8,868 L1157,872 L1160,872 L1162.4,864 L1165,872 L1173,872 L1175,868 L1177,872 L1186.2,872 L1188.7,858 L1191.2,872 L1217.5,872 L1219.9,868 L1222,872 L1243.3,872 L1245.7,861 L1248,872 L1259,872 L1260.9,869 L1263,872 L1274,872 L1276,869 L1278,872 L1286,872"/>
<line x1="1113" y1="687" x2="1143" y2="687" stroke="#7ed0f0" stroke-width="3"/>
<line x1="1104" y1="795" x2="1134" y2="795" stroke="#a0a0a0" stroke-width="3"/>
<line x1="1113" y1="818" x2="1143" y2="818" stroke="#8888f0" stroke-width="3"/>
<line x1="1100" y1="929" x2="1130" y2="929" stroke="#a0a0a0" stroke-width="3"/>
<g fill="#fff" font-size="12.5">
<text x="1148" y="692" textLength="133" lengthAdjust="spacingAndGlyphs">PXRD: 3PP(H)-Sn-Cl</text>
<text x="1139" y="800" textLength="142" lengthAdjust="spacingAndGlyphs">SCXRD: 3PP(H)-Sn-Cl</text>
<text x="1148" y="823" textLength="133" lengthAdjust="spacingAndGlyphs">PXRD:3PP(F1)-Sn-Cl</text>
<text x="1134" y="934" textLength="147" lengthAdjust="spacingAndGlyphs">SCXRD: 3PP(F1)-Sn-Cl</text>
</g>
<text x="889" y="706" font-size="26" fill="#fff">j</text>
<g fill="#fff" font-size="13" text-anchor="middle">
<text x="908" y="958">5</text><text x="984" y="958">10</text><text x="1059" y="958">15</text><text x="1135" y="958">20</text><text x="1211" y="958">25</text><text x="1286" y="958">30</text>
</g>
<text x="1097" y="974" font-size="14.5" fill="#fff" text-anchor="middle">2 Theat (degree)</text>
<text transform="translate(901,810) rotate(-90)" font-size="13" fill="#fff" text-anchor="middle">Intensity (a.u.)</text>

<!-- ===== Caption ===== -->
<g font-weight="normal" font-size="20" fill="#333">
<text x="12" y="1034" textLength="1344" lengthAdjust="spacingAndGlyphs"><tspan font-weight="bold" fill="#222">FIGURE&#160;&#160;1</tspan>&#160;&#160;&#160;<tspan fill="#777">|</tspan>&#160;&#160;&#160;(a) and (c) design principle of the organic-inorganic hybrid Sn<tspan dy="-8" font-size="13">4+</tspan><tspan dy="8">-based metal halides with different stacking interactions. Crystal</tspan></text>
<text x="12" y="1064" textLength="1344" lengthAdjust="spacingAndGlyphs">structure of (b) 3PP(<tspan font-weight="bold">H</tspan>)-Sn-Cl, (d) 3PP(<tspan font-weight="bold">F1</tspan>)-Sn-Cl, (e) 3PP(<tspan font-weight="bold">F2</tspan>)-Sn-Cl, (f) 3PP(<tspan font-weight="bold">Cl</tspan>)-Sn-Cl and (g) 3PP(<tspan font-weight="bold">Br</tspan>)-Sn-Cl. (h) Optical photographs of 3PP(<tspan font-weight="bold">R</tspan>)-Sn-</text>
<text x="12" y="1094" textLength="1344" lengthAdjust="spacingAndGlyphs">Cl. (i) Corresponding CIE chromaticity coordinates of 3PP(<tspan font-weight="bold">H</tspan>)-Sn-Cl, obtained from the following TRES spectra. (j) PXRD and SCXRD patterns of</text>
<text x="12" y="1124" textLength="301" lengthAdjust="spacingAndGlyphs">3PP(<tspan font-weight="bold">H</tspan>)-Sn-Cl and 3PP(<tspan font-weight="bold">F1</tspan>)-Sn-Cl.</text>
</g>
</svg>
</body></html>
